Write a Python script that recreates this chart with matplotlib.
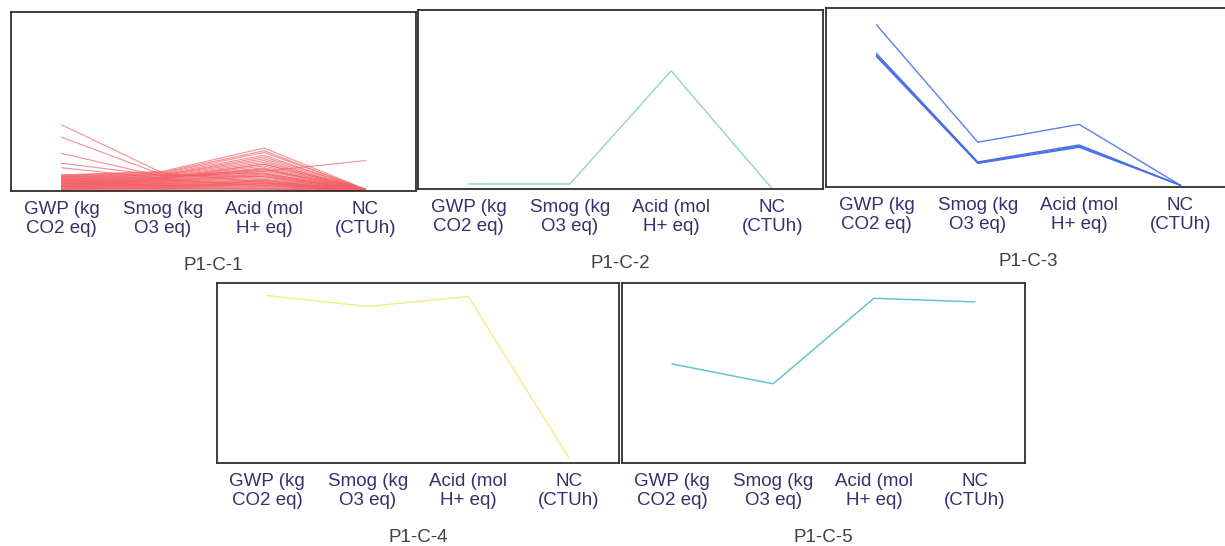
import numpy as np
import matplotlib.pyplot as plt

plt.rcParams['font.family'] = ['Liberation Sans', 'DejaVu Sans']

criteria = ["GWP (kg\nCO2 eq)", "Smog (kg\nO3 eq)", "Acid (mol\nH+ eq)", "NC\n(CTUh)"]

# normalised impact scores per cluster, one row per design alternative
c1 = [
    [0.370, 0.100, 0.050, 0.010],
    [0.300, 0.090, 0.080, 0.010],
    [0.210, 0.080, 0.120, 0.010],
    [0.155, 0.085, 0.100, 0.005],
    [0.130, 0.070, 0.150, 0.010],
    [0.090, 0.110, 0.240, 0.010],
    [0.088, 0.105, 0.225, 0.005],
    [0.085, 0.100, 0.215, 0.010],
    [0.082, 0.095, 0.200, 0.005],
    [0.080, 0.090, 0.190, 0.010],
    [0.078, 0.088, 0.180, 0.005],
    [0.075, 0.085, 0.170, 0.000],
    [0.072, 0.080, 0.160, 0.010],
    [0.070, 0.078, 0.150, 0.005],
    [0.068, 0.075, 0.110, 0.170],
    [0.065, 0.072, 0.140, 0.005],
    [0.062, 0.070, 0.130, 0.010],
    [0.060, 0.068, 0.125, 0.000],
    [0.058, 0.065, 0.118, 0.005],
    [0.055, 0.062, 0.110, 0.010],
    [0.052, 0.060, 0.100, 0.005],
    [0.050, 0.058, 0.095, 0.000],
    [0.048, 0.055, 0.090, 0.010],
    [0.045, 0.052, 0.085, 0.005],
    [0.042, 0.050, 0.080, 0.000],
    [0.040, 0.048, 0.072, 0.005],
    [0.038, 0.045, 0.065, 0.010],
    [0.035, 0.042, 0.060, 0.000],
    [0.032, 0.040, 0.055, 0.005],
    [0.030, 0.038, 0.050, 0.000],
    [0.028, 0.035, 0.045, 0.005],
    [0.025, 0.032, 0.040, 0.000],
    [0.022, 0.030, 0.035, 0.005],
    [0.020, 0.028, 0.030, 0.000],
    [0.018, 0.025, 0.025, 0.005],
    [0.015, 0.022, 0.020, 0.000],
    [0.012, 0.020, 0.015, 0.005],
    [0.010, 0.015, 0.012, 0.000],
    [0.008, 0.012, 0.010, 0.000],
    [0.005, 0.008, 0.006, 0.000],
    [0.060, 0.030, 0.040, 0.000],
    [0.045, 0.020, 0.060, 0.005],
    [0.030, 0.065, 0.030, 0.000],
    [0.025, 0.010, 0.045, 0.000],
]
c2 = [[0.028, 0.028, 0.660, 0.000]]
c3_upper = [[0.905, 0.250, 0.350, 0.010]]
c3_lower = [
    [0.745, 0.140, 0.235, 0.010],
    [0.735, 0.135, 0.228, 0.010],
    [0.728, 0.132, 0.222, 0.010],
]
c4 = [[0.930, 0.870, 0.925, 0.030]]
c5 = [[0.550, 0.440, 0.915, 0.895]]

titles = ["P1-C-1", "P1-C-2", "P1-C-3", "P1-C-4", "P1-C-5"]

W, H = 1225, 546
fig = plt.figure(figsize=(W / 100, H / 100), dpi=100)

# axes boxes in pixels: left, top, right, bottom
boxes = [
    (11, 12, 416, 191),
    (418, 10, 823, 189),
    (826, 8, 1231, 187),
    (217, 283, 619, 463),
    (622, 283, 1025, 463),
]

axes = []
for (l, t, r, b), title in zip(boxes, titles):
    ax = fig.add_axes([l / W, 1 - b / H, (r - l) / W, (b - t) / H])
    ax.set_xlim(0.5, 4.5)
    ax.set_ylim(0, 1)
    ax.set_xticks(range(1, 5))
    ax.set_xticklabels(criteria, fontsize=13.5, color='#32326c', linespacing=1.2)
    ax.set_yticks([])
    ax.tick_params(axis='x', length=0, pad=7)
    for s in ax.spines.values():
        s.set_color('#2e2e2e')
        s.set_linewidth(1.3)
    ax.set_xlabel(title, fontsize=13.5, color='#404040', labelpad=14)
    axes.append(ax)

x = np.arange(1, 5)

def draw(ax, rows, color, lw, alpha=1.0):
    for row in rows:
        ax.plot(x, row, color=color, lw=lw, alpha=alpha, solid_joinstyle='miter')

draw(axes[0], c1, '#f26066', 0.8, 0.7)
draw(axes[1], c2, '#8fd8bc', 1.0)
draw(axes[2], c3_upper, '#5a7ff0', 1.0)
draw(axes[2], c3_lower, '#4a6ee8', 1.0)
draw(axes[3], c4, '#f7ea80', 1.0)
draw(axes[4], c5, '#66c4cc', 1.1)

fig.savefig('out.png', dpi=100)
